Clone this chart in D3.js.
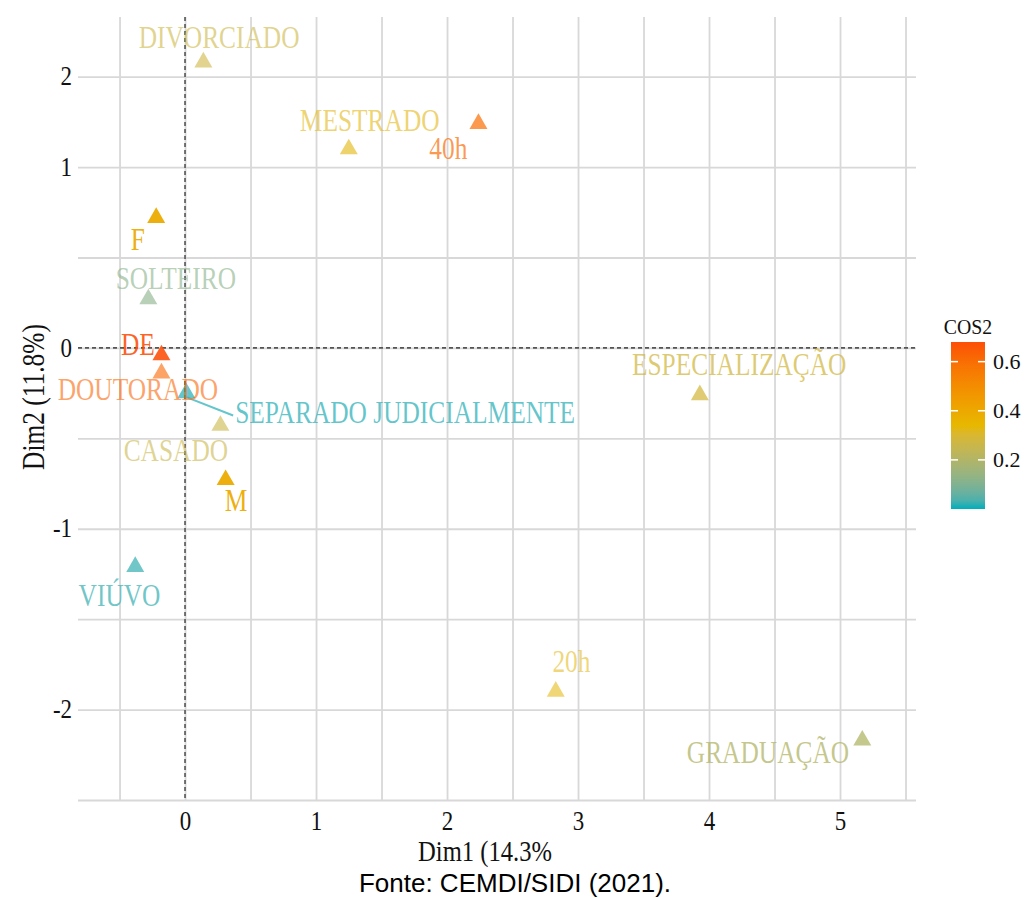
<!DOCTYPE html>
<html>
<head>
<meta charset="utf-8">
<script src="https://cdn.jsdelivr.net/npm/d3@7"></script>
<style>
  body { margin: 0; background: #fff; }
  .serif { font-family: "Liberation Serif", "DejaVu Serif", serif; }
</style>
</head>
<body>
<div id="chart"></div>
<script>
// categories of the MCA plot
var categories = ["DIVORCIADO", "MESTRADO", "40h", "F", "SOLTEIRO", "DE", "DOUTORADO",
  "SEPARADO JUDICIALMENTE", "CASADO", "M", "VIÚVO", "ESPECIALIZAÇÃO", "20h", "GRADUAÇÃO"];
// coordinates (Dim1, Dim2)
var dim1 = [0.14, 1.25, 2.24, -0.22, -0.28, -0.18, -0.18, 0.01, 0.27, 0.31, -0.38, 3.93, 2.83, 5.17];
var dim2 = [1.58, 1.10, 1.24, 0.72, 0.27, -0.04, -0.14, -0.25, -0.43, -0.73, -1.21, -0.26, -1.90, -2.17];
// cos2 of each category
var cos2 = [0.27, 0.33, 0.60, 0.39, 0.12, 0.68, 0.62, 0.01, 0.26, 0.39, 0.02, 0.28, 0.33, 0.20];
// transparency follows the contribution
var contribAlpha = [0.6, 0.62, 0.7, 0.95, 0.62, 0.88, 0.6, 0.72, 0.6, 0.95, 0.72, 0.72, 0.58, 0.75];
// where the repelled labels ended (data units)
var lblX = [0.26, 1.41, 2.01, -0.36, -0.07, -0.36, -0.36, 1.68, -0.07, 0.39, -0.50, 4.23, 2.95, 4.45];
var lblY = [1.715, 1.255, 1.10, 0.60, 0.385, 0.02, -0.23, -0.357, -0.566, -0.846, -1.368, -0.093, -1.733, -2.24];

var xTicks = [0, 1, 2, 3, 4, 5];
var yTicks = [-2, -1, 0, 1, 1.5];
var yTickLabels = ["-2", "-1", "0", "1", "2"];
var legendTicks = [0.2, 0.4, 0.6];
var gradCols = ["#00AFBB", "#E7B800", "#FC4E07"];

var W = 1026, H = 898;
var svg = d3.select("#chart").append("svg").attr("width", W).attr("height", H);

var x = d3.scaleLinear().domain([-0.817, 5.58]).range([78, 916]);
var y = d3.scaleLinear().domain([-2.5, 1.83]).range([800, 17]);
var color = d3.scaleLinear().domain([0, 0.34, 0.68]).range(gradCols).interpolate(d3.interpolateLab);

var SX = 0.82; // the serif in the picture is narrow

//---- grid
svg.append("g")
  .attr("transform", "translate(0,800)")
  .call(d3.axisBottom(x).tickValues(d3.range(-0.5, 5.51, 0.5)).tickSize(-783).tickFormat(""))
  .call(g => g.select(".domain").remove())
  .selectAll("line").attr("stroke", "#d8d8d8").attr("stroke-width", 1.8);

svg.append("g")
  .attr("transform", "translate(78,0)")
  .call(d3.axisLeft(y).tickValues(d3.range(-2.5, 1.51, 0.5)).tickSize(-838).tickFormat(""))
  .call(g => g.select(".domain").remove())
  .selectAll("line").attr("stroke", "#d8d8d8").attr("stroke-width", 1.8);

//---- dashed zero lines
svg.append("line")
  .attr("x1", x(0)).attr("x2", x(0)).attr("y1", 17).attr("y2", 800)
  .attr("stroke", "#555").attr("stroke-width", 1.6).attr("stroke-dasharray", "4,3");
svg.append("line")
  .attr("x1", 78).attr("x2", 916).attr("y1", y(0)).attr("y2", y(0))
  .attr("stroke", "#555").attr("stroke-width", 1.6).attr("stroke-dasharray", "4,3");

//---- axis labels
var xAx = svg.append("g")
  .attr("transform", "translate(0,800)")
  .call(d3.axisBottom(x).tickValues(xTicks).tickSize(0).tickPadding(0).tickFormat(d3.format("d")));
xAx.select(".domain").remove();
xAx.selectAll("text")
  .attr("class", "serif").attr("font-family", null)
  .attr("font-size", 27).attr("fill", "#111")
  .attr("y", 30).attr("dy", null)
  .attr("transform", "scale(0.85,1)");

var yAx = svg.append("g")
  .attr("transform", "translate(72,0)")
  .call(d3.axisLeft(y).tickValues(yTicks).tickSize(0).tickPadding(0)
    .tickFormat((d, i) => yTickLabels[i]));
yAx.select(".domain").remove();
yAx.selectAll("text")
  .attr("class", "serif").attr("font-family", null)
  .attr("font-size", 27).attr("fill", "#111")
  .attr("x", 0).attr("dy", "0.3em")
  .attr("transform", "scale(0.85,1)");

//---- points
var pts = categories.map((c, i) => ({
  name: c, x: dim1[i], y: dim2[i], cos2: cos2[i], a: contribAlpha[i], lx: lblX[i], ly: lblY[i]
}));

// connector for the label that was pushed away
pts.filter(d => d.name == "SEPARADO JUDICIALMENTE").forEach(d => {
  svg.append("line")
    .attr("x1", x(d.x)).attr("y1", y(d.y) + 4)
    .attr("x2", x(d.lx) - 172).attr("y2", y(d.ly) + 3)
    .attr("stroke", color(d.cos2)).attr("stroke-opacity", d.a).attr("stroke-width", 2);
});

svg.selectAll(".pt")
  .data(pts)
  .enter().append("path")
  .attr("class", "pt")
  .attr("d", d3.symbol().type(d3.symbolTriangle).size(140))
  .attr("transform", d => `translate(${x(d.x)},${y(d.y)})`)
  .attr("fill", d => color(d.cos2))
  .attr("fill-opacity", d => d.a);

svg.selectAll(".lbl")
  .data(pts)
  .enter().append("text")
  .attr("class", "lbl serif")
  .attr("transform", d => `translate(${x(d.lx)},${y(d.ly)}) scale(${SX},1)`)
  .attr("dy", "0.33em")
  .attr("text-anchor", "middle")
  .attr("font-size", 31)
  .attr("fill", d => color(d.cos2))
  .attr("fill-opacity", d => d.a)
  .text(d => d.name);

//---- titles
svg.append("text")
  .attr("class", "serif")
  .attr("transform", `translate(485,861) scale(${SX},1)`)
  .attr("text-anchor", "middle").attr("font-size", 30).attr("fill", "#111")
  .text("Dim1 (14.3%");

svg.append("text")
  .attr("class", "serif")
  .attr("transform", `translate(44,397) rotate(-90) scale(${SX},1)`)
  .attr("text-anchor", "middle").attr("font-size", 31).attr("fill", "#111")
  .text("Dim2 (11.8%)");

svg.append("text")
  .attr("x", 515).attr("y", 892)
  .attr("text-anchor", "middle")
  .attr("font-family", "Liberation Sans, Arial, sans-serif")
  .attr("font-size", 26).attr("fill", "#000")
  .text("Fonte: CEMDI/SIDI (2021).");

//---- legend
var ly = d3.scaleLinear().domain([0, 0.68]).range([509, 342]);
var defs = svg.append("defs");
var grad = defs.append("linearGradient").attr("id", "cosGrad")
  .attr("x1", 0).attr("y1", 1).attr("x2", 0).attr("y2", 0);
d3.range(0, 1.0001, 0.05).forEach(t => {
  grad.append("stop").attr("offset", t).attr("stop-color", color(t * 0.68));
});
svg.append("rect")
  .attr("x", 951).attr("y", 342).attr("width", 34).attr("height", 167)
  .attr("fill", "url(#cosGrad)");

svg.selectAll(".ltk")
  .data(legendTicks)
  .enter().append("g")
  .each(function (d) {
    var g = d3.select(this);
    g.append("line").attr("x1", 951).attr("x2", 958).attr("y1", ly(d)).attr("y2", ly(d))
      .attr("stroke", "#fff").attr("stroke-width", 1.5);
    g.append("line").attr("x1", 978).attr("x2", 985).attr("y1", ly(d)).attr("y2", ly(d))
      .attr("stroke", "#fff").attr("stroke-width", 1.5);
    g.append("text").attr("class", "serif")
      .attr("x", 993).attr("y", ly(d)).attr("dy", "0.33em")
      .attr("font-size", 22).attr("fill", "#111")
      .text(d3.format(".1f")(d));
  });

svg.append("text")
  .attr("class", "serif")
  .attr("transform", "translate(968,334) scale(0.9,1)")
  .attr("text-anchor", "middle").attr("font-size", 22).attr("fill", "#111")
  .text("COS2");
</script>
</body>
</html>
